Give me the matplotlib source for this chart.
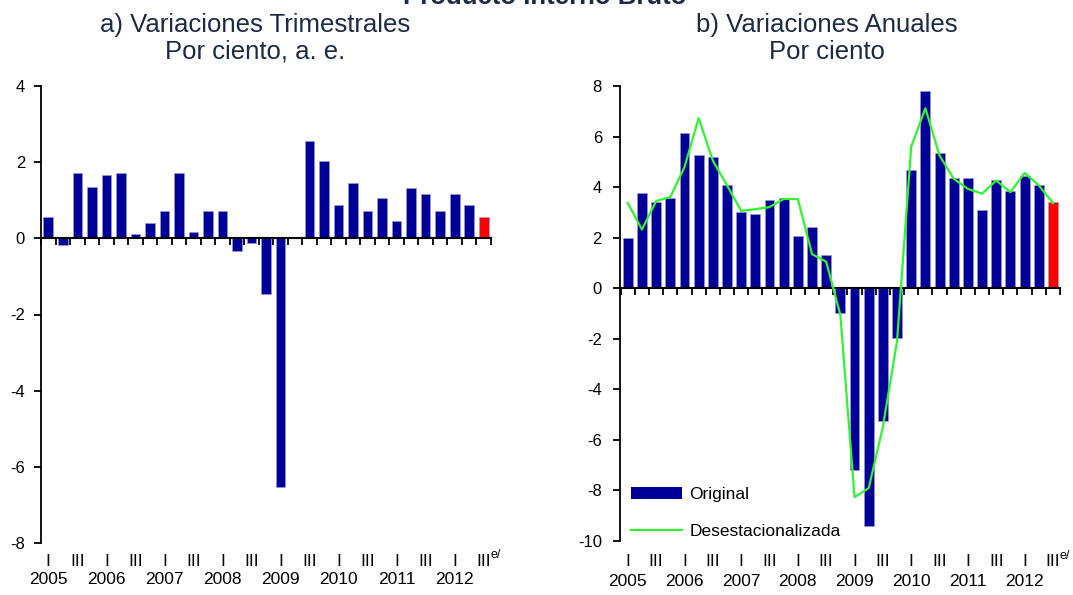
import matplotlib
matplotlib.use("Agg")
import matplotlib.pyplot as plt
import matplotlib.transforms as mtransforms
from matplotlib.patches import Patch
from matplotlib.lines import Line2D
import numpy as np

plt.rcParams['font.family'] = ['Liberation Sans', 'DejaVu Sans']

# ---- data ----
years = ["2005", "2006", "2007", "2008", "2009", "2010", "2011", "2012"]
quarter_marks = ["I", "III"]

# a) quarterly change, seasonally adjusted (%)
quarterly = [0.56, -0.18, 1.72, 1.36, 1.66, 1.72, 0.11, 0.41,
             0.72, 1.72, 0.17, 0.72, 0.72, -0.33, -0.13, -1.47,
             -6.54, 0.02, 2.56, 2.02, 0.87, 1.46, 0.72, 1.07,
             0.46, 1.32, 1.17, 0.72, 1.17, 0.87, 0.57]

# b) annual change (%)
annual_original = [1.97, 3.78, 3.40, 3.55, 6.16, 5.26, 5.19, 4.07,
                   3.02, 2.95, 3.48, 3.55, 2.06, 2.44, 1.31, -0.99,
                   -7.18, -9.41, -5.25, -1.97, 4.67, 7.80, 5.34, 4.37,
                   4.37, 3.11, 4.30, 3.84, 4.45, 4.07, 3.40]
annual_sa = [3.37, 2.32, 3.45, 3.61, 4.79, 6.73, 5.05, 4.07,
             3.06, 3.13, 3.21, 3.53, 3.53, 1.35, 1.05, -1.05,
             -8.26, -7.91, -5.49, -2.09, 5.60, 7.12, 5.25, 4.33,
             3.93, 3.74, 4.26, 3.80, 4.56, 4.07, 3.37]

BLUE = "#000099"
RED = "#ff0000"
GREEN = "#2ef52e"
TITLE = "#1c2a48"
YFS = 12
XFS = 12.5
LFS = 12.5
TFS = 18.5

W, H = 1073, 595
fig = plt.figure(figsize=(W / 100, H / 100), dpi=100)
ax1 = fig.add_axes([41 / W, 1 - 543 / H, 450 / W, 457 / H])
ax2 = fig.add_axes([620 / W, 1 - 541 / H, 440 / W, 455 / H])

n = len(quarterly)
x = np.arange(n)


def bar_colors(vals):
    cols = [BLUE] * len(vals)
    cols[-1] = RED
    return cols


def style_axis(ax, ylim, yticks, xlim, ypad, row1_y, row2_y):
    ax.set_ylim(*ylim)
    ax.set_xlim(*xlim)
    ax.set_yticks(yticks)
    ax.set_yticklabels([f"{t:g}" for t in yticks])
    for s in ("top", "right"):
        ax.spines[s].set_visible(False)
    ax.spines["left"].set_linewidth(1.3)
    ax.spines["bottom"].set_position(("data", 0))
    ax.spines["bottom"].set_linewidth(1.5)
    ax.set_xticks(np.arange(-0.5, n, 1.0))
    ax.tick_params(axis="x", direction="out", length=5, width=1.3,
                   labelbottom=False)
    ax.tick_params(axis="y", direction="out", length=5, width=1.3,
                   labelsize=YFS, pad=ypad)
    blend = mtransforms.blended_transform_factory(ax.transData, fig.transFigure)
    for k, yr in enumerate(years):
        q1 = 4 * k
        q3 = 4 * k + 2
        ax.text(q1, 1 - row1_y / H, quarter_marks[0], transform=blend,
                ha="center", va="center", fontsize=XFS)
        ax.text(q3, 1 - row1_y / H, quarter_marks[1], transform=blend,
                ha="center", va="center", fontsize=XFS)
        ax.text(q1, 1 - row2_y / H, yr, transform=blend,
                ha="center", va="center", fontsize=XFS)
    ax.annotate("e/", xy=(n - 1, 1 - row1_y / H), xycoords=blend,
                xytext=(5, 4.5), textcoords="offset points",
                ha="left", va="center", fontsize=9)


# ---- panel a ----
ax1.bar(x, quarterly, width=0.66, color=bar_colors(quarterly),
        edgecolor="#9a9ad6", linewidth=0.4, zorder=2)
style_axis(ax1, (-8, 4), [4, 2, 0, -2, -4, -6, -8], (-0.45, n - 0.55),
           6.5, 561, 580)

# ---- panel b ----
ax2.bar(x, annual_original, width=0.7, color=bar_colors(annual_original),
        edgecolor="#9a9ad6", linewidth=0.4, zorder=2)
ax2.plot(x, annual_sa, color=GREEN, lw=1.6, zorder=3)
style_axis(ax2, (-10, 8), [8, 6, 4, 2, 0, -2, -4, -6, -8, -10],
           (-0.55, n - 0.6), 8, 562, 581)

handles = [Patch(facecolor=BLUE, edgecolor="none"),
           Line2D([0], [0], color=GREEN, lw=1.6)]
ax2.legend(handles, ["Original", "Desestacionalizada"], loc="lower left",
           bbox_to_anchor=(0.025, 0.005), frameon=False, fontsize=LFS,
           handlelength=2.95, labelspacing=1.25, borderpad=0,
           borderaxespad=0, handletextpad=0.4)

# ---- titles ----
fig.text(545 / W, 1 - 4 / H, "Producto Interno Bruto", ha="center",
         va="baseline", fontsize=TFS, fontweight="bold", color=TITLE)
fig.text(255 / W, 1 - 32 / H, "a) Variaciones Trimestrales", ha="center",
         va="baseline", fontsize=TFS, color=TITLE)
fig.text(255 / W, 1 - 59 / H, "Por ciento, a. e.", ha="center",
         va="baseline", fontsize=TFS, color=TITLE)
fig.text(827 / W, 1 - 32 / H, "b) Variaciones Anuales", ha="center",
         va="baseline", fontsize=TFS, color=TITLE)
fig.text(827 / W, 1 - 59 / H, "Por ciento", ha="center",
         va="baseline", fontsize=TFS, color=TITLE)

fig.savefig("out.png", dpi=100)
